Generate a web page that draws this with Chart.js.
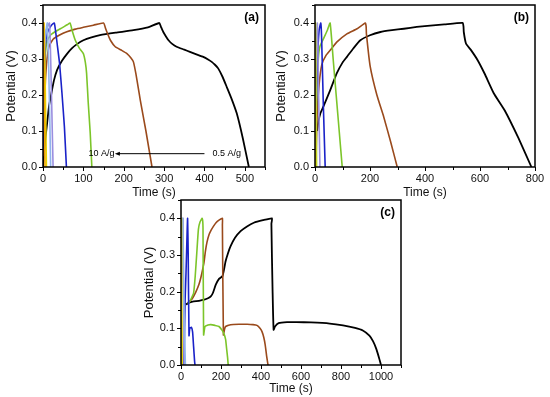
<!DOCTYPE html>
<html><head><meta charset="utf-8">
<script src="https://cdn.jsdelivr.net/npm/chart.js@4"></script>
<style>
html,body{margin:0;padding:0;background:#fff;width:550px;height:397px;overflow:hidden;}
.p{position:absolute;}
canvas{display:block;}
</style></head><body>
<div class="p" style="left:0;top:0"><canvas id="ca" width="272" height="200"></canvas></div>
<div class="p" style="left:270px;top:0"><canvas id="cb" width="280" height="200"></canvas></div>
<div class="p" style="left:130px;top:195px"><canvas id="cc" width="278" height="202"></canvas></div>
<script>
// ---------- DATA (time s, potential V) ----------
// Panel (a)
const a_05 = [[0,0],[2,0.03],[5,0.07],[10,0.12],[15,0.17],[20,0.2],[27,0.24],[35,0.27],[47,0.295],[60,0.315],[72,0.33],[85,0.342],[100,0.352],[120,0.36],[141,0.366],[180,0.373],[224,0.38],[260,0.388],[288,0.4],[292,0.39],[298,0.375],[305,0.362],[311,0.352],[320,0.342],[331,0.334],[350,0.326],[364,0.32],[380,0.313],[397,0.306],[410,0.298],[418,0.292],[426,0.284],[434,0.274],[445,0.25],[455,0.223],[467,0.19],[480,0.149],[495,0.08],[510,0]];
const a_1 = [[0,0.03],[3,0.15],[6,0.24],[10,0.3],[15,0.335],[25,0.355],[40,0.366],[59,0.376],[80,0.383],[100,0.388],[125,0.394],[150,0.4],[155,0.385],[160,0.37],[167,0.352],[179,0.334],[195,0.324],[208,0.315],[218,0.303],[224,0.292],[230,0.26],[236,0.22],[241,0.186],[255,0.1],[270,0]];
const a_2 = [[0,0.05],[2,0.2],[5,0.3],[10,0.35],[20,0.368],[43,0.384],[60,0.395],[67,0.4],[72,0.38],[80,0.352],[90,0.33],[100,0.315],[105,0.29],[108,0.26],[112,0.18],[117,0.094],[121,0]];
const a_3 = [[0,0.05],[2,0.15],[4,0.27],[6,0.34],[10,0.37],[16,0.385],[22,0.395],[28,0.4],[32,0.37],[35,0.343],[41,0.288],[47,0.205],[53,0.112],[58,0]];
const a_5 = [[0,0.1],[3,0.3],[8,0.38],[16,0.4],[19,0.3],[22,0.15],[25,0]];
const a_6 = [[0,0.15],[3,0.33],[10.5,0.4],[14,0.28],[17,0.12],[19,0]];
const a_8 = [[0,0.2],[1,0.35],[2.5,0.4],[4.5,0.3],[6.5,0.15],[8.5,0]];
const a_10 = [[0,0.3],[0.5,0.38],[1.5,0.4],[2.5,0.3],[3.5,0.15],[5,0]];
// Panel (b)
const b_05 = [[8,0.1],[12,0.125],[20,0.15],[30,0.167],[55,0.213],[79,0.26],[100,0.29],[116,0.306],[140,0.33],[165,0.352],[200,0.366],[238,0.375],[280,0.38],[323,0.384],[370,0.389],[409,0.392],[470,0.396],[537,0.4],[540,0.39],[541,0.375],[549,0.343],[568,0.324],[592,0.296],[617,0.259],[650,0.205],[690,0.157],[740,0.08],[787,0]];
const b_1 = [[3,0],[8,0.15],[15,0.23],[25,0.285],[40,0.31],[55,0.324],[79,0.347],[116,0.37],[153,0.384],[183,0.4],[186,0.39],[187,0.37],[201,0.278],[225,0.2],[250,0.139],[275,0.07],[299,0]];
const b_2 = [[2,0.05],[6,0.2],[12,0.3],[18,0.335],[30,0.355],[45,0.38],[55,0.4],[66,0.3],[77,0.2],[88,0.1],[99,0]];
const b_3 = [[0,0],[4,0.15],[9,0.3],[15,0.38],[21,0.4],[24,0.36],[30,0.18],[37,0]];
const b_5 = [[0,0.1],[3,0.3],[8.5,0.4],[12,0.25],[18,0]];
const b_8 = [[0,0],[1,0.3],[2,0.4],[4,0.2],[6,0]];
const b_10 = [[0,0.2],[1,0.4],[2,0.2],[3,0]];
// Panel (c)
const c_05 = [[25,0.165],[40,0.17],[58,0.173],[90,0.175],[116,0.178],[135,0.182],[149,0.187],[160,0.197],[174,0.219],[190,0.235],[207,0.242],[215,0.26],[223,0.283],[235,0.305],[248,0.324],[270,0.347],[298,0.365],[330,0.378],[364,0.388],[410,0.395],[455,0.4],[452,0.385],[458,0.2],[463,0.096],[470,0.105],[488,0.114],[530,0.117],[578,0.117],[650,0.116],[744,0.113],[810,0.108],[870,0.101],[909,0.094],[942,0.08],[960,0.065],[975,0.046],[990,0.02],[1000,0]];
const c_1 = [[35,0.17],[55,0.18],[75,0.2],[90,0.22],[100,0.24],[108,0.26],[115,0.28],[122,0.31],[130,0.335],[140,0.355],[150,0.367],[162,0.378],[175,0.388],[190,0.395],[207,0.4],[207,0.382],[212,0.082],[218,0.098],[223,0.105],[248,0.11],[290,0.111],[331,0.111],[360,0.11],[380,0.108],[395,0.1],[405,0.091],[414,0.075],[421,0.055],[428,0.025],[435,0]];
const c_2 = [[35,0.165],[50,0.18],[63,0.196],[71,0.242],[79,0.306],[87,0.37],[95,0.39],[106,0.4],[110,0.375],[113,0.082],[120,0.105],[135,0.109],[149,0.11],[170,0.108],[190,0.105],[205,0.095],[215,0.085],[223,0.07],[228,0.045],[233,0.02],[236,0]];
const c_3 = [[15,0],[20,0.17],[25,0.25],[30,0.35],[33,0.4],[36,0.3],[40,0.08],[44,0.1],[52,0.103],[58,0.09],[63,0.05],[68,0.01],[70,0]];
const c_5 = [[0,0.1],[5,0.35],[10,0.4],[13,0.2],[17,0]];
const c_6 = [[0,0.2],[6,0.38],[9,0.4],[13,0.2],[22,0]];
const c_10 = [[0,0],[2,0.4],[4,0.2],[6,0]];

// Axis tick settings (major label step / minor tick step)
const xMaxA = 550, xMaxB = 800, xMaxC = 1100;
const xMajorA = 100, xMajorB = 200, xMajorC = 200;
const yMax = 0.45, yMajor = 0.1;
const colors = {k:'#000000', br:'#9a4a1c', gr:'#7cc52a', bl:'#1a22c8', lv:'#9a8ee0', lb:'#8fb4ea', ye:'#e8d400', or:'#f0a400', yg:'#a8d84a'};

const FONT = '"Liberation Sans", Arial, sans-serif';

const framePlugin = {
  id: 'frame',
  afterDatasetsDraw(chart, args, opts) {
    const {ctx, chartArea: ca, scales} = chart;
    ctx.save();
    ctx.strokeStyle = '#000';
    ctx.lineWidth = 1.5;
    ctx.strokeRect(ca.left, ca.top, ca.right - ca.left, ca.bottom - ca.top);
    ctx.lineWidth = 1;
    const xs = scales.x, ys = scales.y;
    xs.ticks.forEach(t => {
      const v = t.value;
      const px = Math.round(xs.getPixelForValue(v)) + 0.5;
      const major = Math.abs(v / opts.xMajor - Math.round(v / opts.xMajor)) < 1e-6;
      ctx.beginPath(); ctx.moveTo(px, ca.bottom); ctx.lineTo(px, ca.bottom + (major ? 4 : 3)); ctx.stroke();
    });
    ys.ticks.forEach(t => {
      const v = t.value;
      const py = Math.round(ys.getPixelForValue(v)) + 0.5;
      const major = Math.abs(v / yMajor - Math.round(v / yMajor)) < 1e-6;
      ctx.beginPath(); ctx.moveTo(ca.left, py); ctx.lineTo(ca.left - (major ? 4 : 3), py); ctx.stroke();
    });
    ctx.fillStyle = '#000';
    ctx.font = 'bold 12px ' + FONT;
    ctx.textAlign = 'right'; ctx.textBaseline = 'middle';
    ctx.fillText(opts.label, ca.right - 6, ca.top + 13);
    if (opts.arrow) {
      const y = ys.getPixelForValue(0.037);
      ctx.font = '9px ' + FONT;
      ctx.textAlign = 'center';
      ctx.fillText('10 A/g', xs.getPixelForValue(145), y);
      ctx.fillText('0.5 A/g', xs.getPixelForValue(455), y);
      const x1 = xs.getPixelForValue(178), x2 = xs.getPixelForValue(400);
      ctx.beginPath(); ctx.moveTo(x1 + 4, y); ctx.lineTo(x2, y); ctx.stroke();
      ctx.beginPath(); ctx.moveTo(x1, y); ctx.lineTo(x1 + 5, y - 2); ctx.lineTo(x1 + 5, y + 2); ctx.closePath(); ctx.fill();
    }
    ctx.restore();
  }
};

function isMult(v, m) { return Math.abs(v / m - Math.round(v / m)) < 1e-6; }

function panel(id, o) {
  const datasets = o.series.map(s => ({
    data: s[0].map(p => ({x: p[0], y: p[1]})),
    borderColor: s[1], borderWidth: s[2] || 1.6,
    showLine: true, pointRadius: 0, tension: 0.15, fill: false
  }));
  return new Chart(document.getElementById(id), {
    type: 'scatter',
    data: {datasets},
    options: {
      responsive: false, animation: false, events: [],
      layout: {padding: {top: 5, right: o.pr, left: 0, bottom: 0}},
      plugins: {legend: {display: false}, tooltip: {enabled: false},
        frame: {label: o.label, xMajor: o.xMajor, arrow: o.arrow}},
      scales: {
        x: {type: 'linear', min: 0, max: o.xmax,
          grid: {display: false, drawTicks: false}, border: {display: false},
          ticks: {stepSize: o.xMajor / 2, autoSkip: false, maxRotation: 0, padding: 5, color: '#111',
            font: {family: FONT, size: 11},
            callback: v => (isMult(v, o.xMajor) ? String(v) : '')},
          title: {display: true, text: 'Time (s)', color: '#111', font: {family: FONT, size: 12}, padding: {top: 0, bottom: o.xtb}},
          afterFit: s => { s.height = o.xh; s.paddingLeft = 0; s.paddingRight = 0; }},
        y: {type: 'linear', min: 0, max: yMax,
          grid: {display: false, drawTicks: false}, border: {display: false},
          ticks: {stepSize: yMajor / 2, autoSkip: false, padding: 6, color: '#111',
            font: {family: FONT, size: 11},
            callback: v => (isMult(v, yMajor) ? v.toFixed(1) : '')},
          title: {display: true, text: 'Potential (V)', color: '#111', font: {family: FONT, size: 13}, padding: {top: o.ytp, bottom: 0}},
          afterFit: s => { s.width = o.yw; s.paddingTop = 0; s.paddingBottom = 0; }}
      }
    },
    plugins: [framePlugin]
  });
}

panel('ca', {label: '(a)', xmax: xMaxA, xMajor: xMajorA, pr: 7, yw: 43, xh: 33, xtb: 0, ytp: 4, arrow: true,
  series: [[a_10, colors.or], [a_8, colors.ye], [a_6, colors.lb], [a_5, colors.lv], [a_3, colors.bl], [a_2, colors.gr], [a_1, colors.br], [a_05, colors.k, 1.8]]});
panel('cb', {label: '(b)', xmax: xMaxB, xMajor: xMajorB, pr: 15, yw: 45, xh: 33, xtb: 0, ytp: 4,
  series: [[b_10, colors.ye], [b_8, colors.yg], [b_5, colors.lv], [b_3, colors.bl], [b_2, colors.gr], [b_1, colors.br], [b_05, colors.k, 1.8]]});
panel('cc', {label: '(c)', xmax: xMaxC, xMajor: xMajorC, pr: 7, yw: 51, xh: 32, xtb: 1, ytp: 12,
  series: [[c_10, colors.ye], [c_6, colors.lb], [c_5, colors.lv], [c_3, colors.bl], [c_2, colors.gr], [c_1, colors.br], [c_05, colors.k, 1.8]]});
</script>
</body></html>
